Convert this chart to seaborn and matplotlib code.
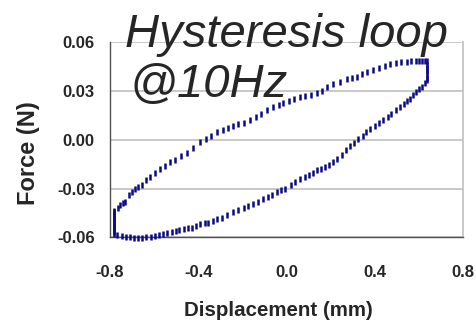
import matplotlib
matplotlib.use("Agg")
import matplotlib.pyplot as plt
import seaborn as sns
import pandas as pd

# Upper branch (displacement rising)
upper_x = [-0.782, -0.765, -0.755, -0.743, -0.732, -0.715, -0.700, -0.687, -0.672, -0.656,
           -0.638, -0.620, -0.596, -0.575, -0.550, -0.528, -0.506, -0.480, -0.453, -0.425,
           -0.392, -0.365, -0.340, -0.317, -0.290, -0.265, -0.243, -0.220, -0.195, -0.166,
           -0.140, -0.115, -0.089, -0.060, -0.035, -0.015, 0.010, 0.035, 0.060, 0.085,
           0.110, 0.136, 0.160, 0.185, 0.210, 0.242, 0.272, 0.295, 0.317, 0.340,
           0.364, 0.393, 0.420, 0.445, 0.468, 0.495, 0.520, 0.544, 0.565, 0.585,
           0.600, 0.613, 0.625]
upper_y = [-0.0440, -0.0420, -0.0400, -0.0390, -0.0380, -0.0340, -0.0320, -0.0300, -0.0290, -0.0280,
           -0.0250, -0.0230, -0.0206, -0.0180, -0.0160, -0.0135, -0.0124, -0.0100, -0.0083, -0.0050,
           -0.0013, 0.0005, 0.0020, 0.0048, 0.0062, 0.0072, 0.0085, 0.0095, 0.0105, 0.0120,
           0.0140, 0.0160, 0.0181, 0.0200, 0.0210, 0.0222, 0.0240, 0.0250, 0.0261, 0.0270,
           0.0275, 0.0285, 0.0300, 0.0320, 0.0340, 0.0355, 0.0375, 0.0380, 0.0385, 0.0400,
           0.0415, 0.0425, 0.0440, 0.0452, 0.0462, 0.0470, 0.0475, 0.0478, 0.0482, 0.0485,
           0.0485, 0.0485, 0.0482]

# Turning point at max displacement
right_x = [0.638, 0.638, 0.638, 0.638, 0.638, 0.638]
right_y = [0.0480, 0.0460, 0.0440, 0.0420, 0.0400, 0.0380]

# Lower branch (displacement falling)
lower_x = [0.636, 0.627, 0.612, 0.600, 0.587, 0.574, 0.560, 0.545, 0.530, 0.513,
           0.495, 0.475, 0.458, 0.438, 0.420, 0.400, 0.380, 0.362, 0.345, 0.325,
           0.305, 0.287, 0.268, 0.249, 0.230, 0.210, 0.192, 0.174, 0.155, 0.138,
           0.118, 0.100, 0.083, 0.062, 0.040, 0.020, -0.007, -0.025, -0.045, -0.065,
           -0.083, -0.105, -0.130, -0.150, -0.174, -0.195, -0.220, -0.243, -0.268, -0.294,
           -0.315, -0.335, -0.355, -0.370, -0.392, -0.410, -0.430, -0.447, -0.465, -0.485,
           -0.503, -0.521, -0.542, -0.560, -0.578, -0.596, -0.615, -0.635, -0.655, -0.673,
           -0.692, -0.710, -0.728, -0.747, -0.768]
lower_y = [0.0365, 0.0345, 0.0320, 0.0310, 0.0290, 0.0273, 0.0250, 0.0235, 0.0220, 0.0201,
           0.0180, 0.0160, 0.0140, 0.0120, 0.0100, 0.0085, 0.0065, 0.0048, 0.0025, 0.0005,
           -0.0020, -0.0040, -0.0065, -0.0095, -0.0120, -0.0140, -0.0155, -0.0167, -0.0180, -0.0187,
           -0.0205, -0.0220, -0.0228, -0.0240, -0.0260, -0.0280, -0.0300, -0.0310, -0.0320, -0.0340,
           -0.0351, -0.0365, -0.0380, -0.0395, -0.0408, -0.0420, -0.0430, -0.0443, -0.0460, -0.0481,
           -0.0490, -0.0500, -0.0510, -0.0512, -0.0520, -0.0530, -0.0540, -0.0543, -0.0550, -0.0555,
           -0.0560, -0.0566, -0.0572, -0.0580, -0.0585, -0.0592, -0.0598, -0.0600, -0.0603, -0.0604,
           -0.0602, -0.0600, -0.0598, -0.0592, -0.0586]

# Turning point at min displacement
left_x = [-0.782] * 10
left_y = [-0.0580, -0.0565, -0.0550, -0.0535, -0.0520, -0.0505, -0.0490, -0.0475, -0.0460, -0.0445]

x_ticks = [-0.8, -0.4, 0.0, 0.4, 0.8]
y_ticks = [-0.06, -0.03, 0.00, 0.03, 0.06]

df = pd.DataFrame({
    "disp": upper_x + right_x + lower_x + left_x,
    "force": upper_y + right_y + lower_y + left_y,
})

sns.set_style("white")
plt.rcParams["font.family"] = ["Liberation Sans", "DejaVu Sans"]

fig = plt.figure(figsize=(4.76, 3.27), dpi=100)
ax = fig.add_axes([0.231, 0.274, 0.742, 0.598])

sns.scatterplot(data=df, x="disp", y="force", marker="|", s=22, linewidth=1.8,
                color="#0a0a86", ax=ax, clip_on=False, zorder=3)

ax.set_xlim(-0.8, 0.8)
ax.set_ylim(-0.06, 0.06)
ax.set_xticks(x_ticks)
ax.set_xticklabels([f"{v:.1f}" for v in x_ticks])
ax.set_yticks(y_ticks)
ax.set_yticklabels([f"{v:.2f}" for v in y_ticks])
ax.grid(axis="y", color="#c0c0c0", linewidth=1.2)
ax.grid(axis="x", visible=False)

for s in ["left", "bottom"]:
    ax.spines[s].set_color("#505050")
    ax.spines[s].set_linewidth(1.0)
ax.spines["top"].set_visible(False)
ax.spines["right"].set_color("#c0c0c0")
ax.spines["right"].set_linewidth(1.2)

ax.tick_params(axis="x", direction="out", length=4, width=1, color="#505050",
               pad=16, labelsize=12)
ax.tick_params(axis="y", direction="out", length=4, width=1, color="#505050",
               pad=7, labelsize=12)
for lab in ax.get_xticklabels() + ax.get_yticklabels():
    lab.set_fontweight("bold")

ax.set_xlabel("Displacement (mm)", fontsize=14.8, fontweight="bold")
ax.set_ylabel("Force (N)", fontsize=17, fontweight="bold")
ax.xaxis.label.set_va("baseline")
ax.yaxis.label.set_va("baseline")
ax.xaxis.set_label_coords(0.477, -0.402)
ax.yaxis.set_label_coords(-0.212, 0.431)

fig.text(125 / 476, 1 - 47 / 327, "Hysteresis loop", fontsize=34, style="italic",
         va="baseline", ha="left")
fig.text(130 / 476, 1 - 97 / 327, "@10Hz", fontsize=34, style="italic",
         va="baseline", ha="left")

fig.savefig("out.png", dpi=100)
